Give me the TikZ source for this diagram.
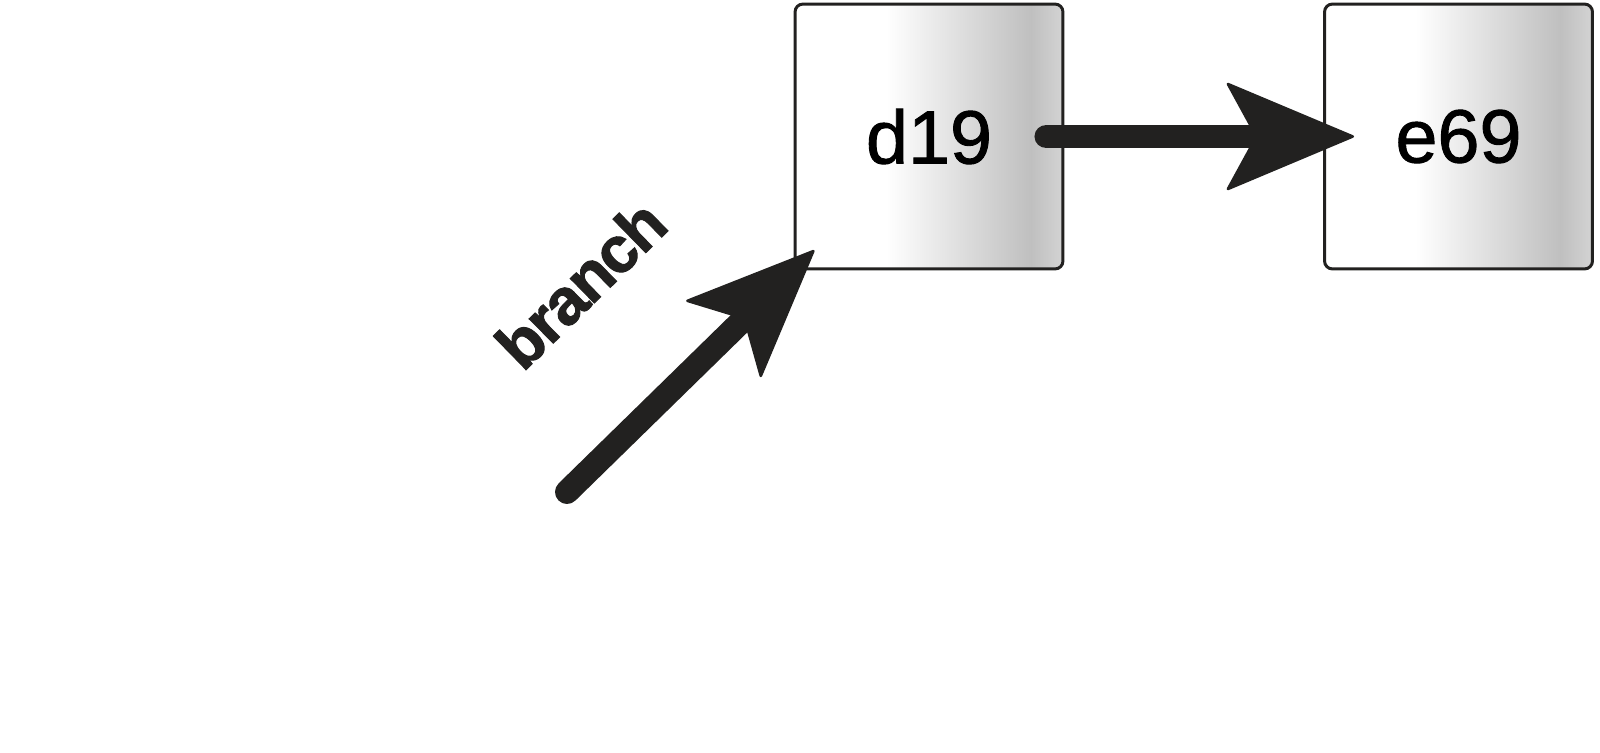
\documentclass[tikz,border=0pt]{standalone}
\usepackage{fontspec}
\setmainfont{Liberation Sans}
\newfontfamily\commitfont[FakeBold=1.2]{Liberation Sans}
\newfontfamily\branchfont[FakeBold=1.5, LetterSpace=-3]{Liberation Sans Bold}
\usepackage{tikz}
\usetikzlibrary{arrows.meta}
\definecolor{wp-ink}{HTML}{222120}
\pgfdeclarehorizontalshading{boxshade}{100bp}{color(0bp)=(white); color(42bp)=(white); color(69bp)=(black!25); color(75bp)=(black!17); color(100bp)=(black!17)}

\begin{document}
\begin{tikzpicture}[x=0.02cm, y=0.02cm,
    commit/.style={draw=wp-ink, line width=1.7pt, rounded corners=0.16cm, shading=boxshade,
        minimum width=5.36cm, minimum height=5.3cm, inner sep=0pt,
        font=\commitfont\fontsize{43}{50}\selectfont},
    bigarrow/.style={wp-ink, line width=0.48cm, line cap=round,
        -{Stealth[length=2.62cm, width=2.2cm, inset=0.6cm, round, line width=1.5pt]}}]
    \useasboundingbox (0,0) rectangle (1600,752);
    % commits
    \node[commit] (d19) at (929,615.5) {d19};
    \node[commit] (e69) at (1458.5,615.5) {e69};
    % arrows
    \draw[bigarrow, shorten <=-0.36cm, shorten >=-0.62cm] (d19.east) -- (e69.west);
    \coordinate (start) at (567,260);
    \draw[bigarrow, shorten >=-0.58cm] (start) -- (d19.south west)
        node[pos=0.49, sloped, above=1.95cm, font=\branchfont\fontsize{37}{42}\selectfont] (lbl) {branch};
\end{tikzpicture}
\end{document}
